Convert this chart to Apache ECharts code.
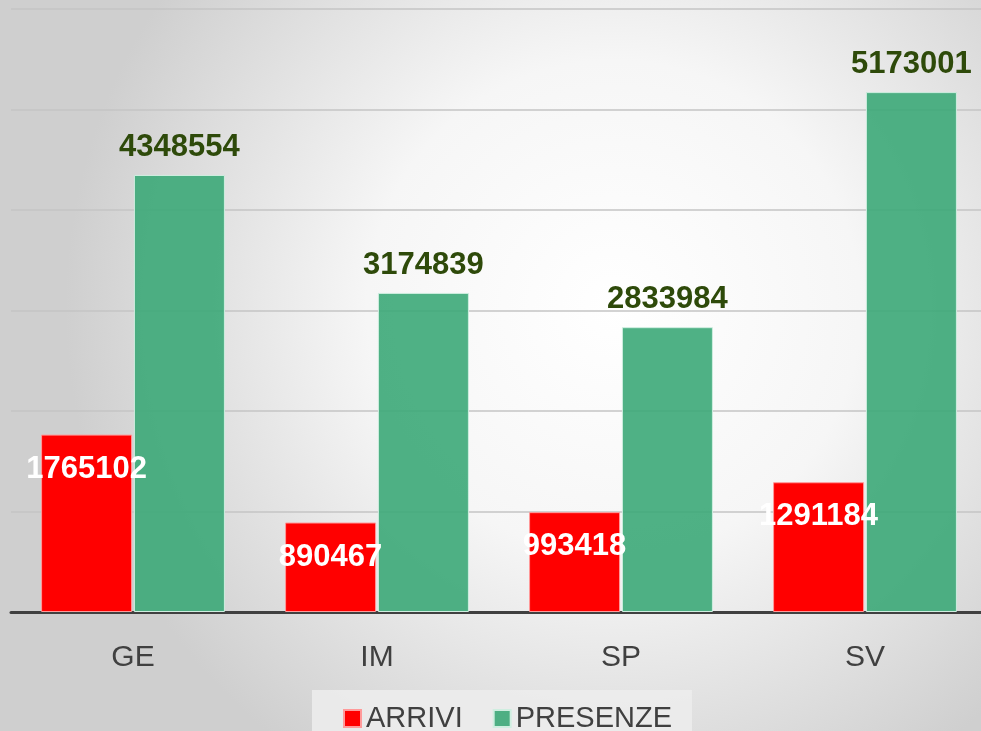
<!DOCTYPE html>
<html>
<head>
<meta charset="utf-8">
<script src="https://cdn.jsdelivr.net/npm/echarts@6/dist/echarts.min.js"></script>
<style>
  html, body { margin: 0; padding: 0; overflow: hidden; }
  #chart { width: 990px; height: 731px; }
</style>
</head>
<body>
<div id="chart"></div>
<script>
var province = ['GE', 'IM', 'SP', 'SV'];
var arrivi = [1765102, 890467, 993418, 1291184];
var presenze = [4348554, 3174839, 2833984, 5173001];

var myChart = echarts.init(document.getElementById('chart'));
myChart.setOption({
    backgroundColor: {
        type: 'radial', x: 0.62, y: 0.42, r: 0.75,
        colorStops: [
            { offset: 0, color: '#ffffff' },
            { offset: 0.45, color: '#f6f6f6' },
            { offset: 1, color: '#cfcfcf' }
        ]
    },
    animation: false,
    grid: { left: 11, right: 3, top: 9, bottom: 119 },
    legend: {
        top: 690,
        left: 312,
        data: ['ARRIVI', 'PRESENZE'],
        icon: 'rect',
        itemWidth: 17,
        itemHeight: 17,
        itemGap: 30,
        backgroundColor: 'rgba(236,236,236,0.9)',
        padding: [14, 20, 12, 31],
        textStyle: { fontSize: 29, color: '#404040', fontFamily: 'Liberation Sans' }
    },
    xAxis: {
        type: 'category',
        data: province,
        axisLine: { lineStyle: { color: '#404040', width: 3 } },
        axisTick: { show: false },
        axisLabel: { fontSize: 30, color: '#404040', margin: 31, fontFamily: 'Liberation Sans' }
    },
    yAxis: {
        type: 'value',
        min: 0,
        max: 6000000,
        interval: 1000000,
        axisLabel: { show: false },
        axisLine: { show: false },
        axisTick: { show: false },
        splitLine: { lineStyle: { color: '#c4c4c4', width: 1.5 } }
    },
    series: [
        {
            name: 'ARRIVI',
            type: 'bar',
            data: arrivi,
            barWidth: 91,
            barGap: '2%',
            itemStyle: { color: '#ff0000', borderColor: '#ff9a9a', borderWidth: 1 },
            label: {
                show: true,
                position: 'insideTop',
                distance: 19,
                color: '#ffffff',
                fontSize: 31,
                fontWeight: 'bold',
                fontFamily: 'Liberation Sans'
            }
        },
        {
            name: 'PRESENZE',
            type: 'bar',
            data: presenze,
            barWidth: 91,
            itemStyle: { color: 'rgba(60,168,120,0.9)', borderColor: '#cfeee0', borderWidth: 1 },
            label: {
                show: true,
                position: 'top',
                distance: 12,
                color: '#2e4a0a',
                fontSize: 31,
                fontWeight: 'bold',
                fontFamily: 'Liberation Sans'
            }
        }
    ]
});
</script>
</body>
</html>
